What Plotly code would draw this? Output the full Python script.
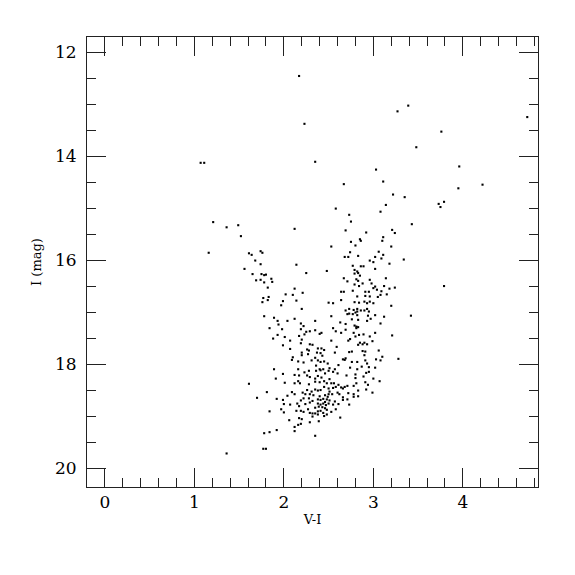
import plotly.graph_objects as go

# Colour (V-I) and magnitude (I) for each star
v_minus_i = [
    2.17, 3.27, 3.39, 3.76, 2.23, 3.48, 1.07, 1.11, 2.35, 3.03, 3.11, 2.67, 3.22, 3.35, 3.14, 3.73, 3.75, 3.79,
    2.58, 2.73, 3.08, 2.75, 3.43, 1.21, 1.36, 1.49, 1.52, 2.12, 2.69, 2.92, 3.21, 3.24, 2.85, 2.86, 2.75, 2.80,
    3.11, 3.10, 2.53, 3.20, 3.06, 3.11, 2.74, 2.68, 2.72, 2.83, 3.02, 3.09, 3.34, 1.16, 1.61, 1.64, 1.74, 1.76,
    3.96, 4.22, 3.95, 3.79, 3.42, 4.72,
    1.68, 1.74, 1.56, 1.65, 1.75, 1.78, 1.80, 2.14, 2.25, 1.69, 1.74, 1.78, 1.86, 1.87, 1.82, 2.12, 2.02, 2.10,
    2.21, 1.77, 1.83,
    1.76, 1.82, 1.99, 1.97, 2.14, 2.20, 1.78, 1.89, 1.93, 1.94, 2.04, 2.12, 2.19, 2.22, 1.84, 1.98, 2.19, 2.29,
    2.35, 2.25, 1.93, 2.01, 2.17, 2.23, 1.88, 2.07, 2.20, 2.19, 1.99, 2.29, 2.32, 2.07, 2.26, 2.28, 2.20, 2.20,
    2.27, 2.10, 2.09, 2.16, 2.22, 2.31, 1.89, 2.16,
    1.99, 1.91, 2.12, 2.17, 2.23, 2.28, 2.26, 2.29, 2.01, 2.12, 2.16, 2.18, 2.28, 1.61, 1.81, 1.70, 2.09, 2.12,
    2.04, 2.21, 2.24, 2.26, 2.31, 2.29, 2.33, 1.92, 1.99, 2.00, 1.97, 2.00, 2.07, 2.15, 2.17, 2.19, 2.22, 2.24,
    2.28, 2.29, 2.32, 2.14, 2.19, 2.22, 2.27, 2.29, 2.32, 2.32, 1.84, 2.06, 2.17, 2.20, 2.29, 2.19, 2.12, 2.16,
    2.12, 1.92, 1.84, 1.78, 1.77, 1.80, 1.36,
    2.96, 3.00, 2.48, 2.79, 3.18, 3.02, 2.77, 2.86, 2.89, 2.79, 2.82, 2.83, 2.85, 2.81, 2.67, 2.71, 2.96, 2.98,
    3.14, 2.83, 2.88, 2.79, 2.84, 3.02, 3.00, 3.04, 3.12, 3.18, 3.24, 2.64, 2.67, 2.77, 2.91, 2.95, 3.09, 3.15,
    2.82, 2.91, 2.96, 3.05, 3.08, 2.64, 2.50, 2.55,
    2.79, 2.84, 2.90, 2.93, 2.96, 3.00, 3.20, 2.73, 2.78, 2.82, 2.82, 2.86, 2.69, 2.71, 2.73, 2.77, 2.80, 2.82,
    2.90, 2.93, 2.95, 3.02, 2.94, 2.97, 3.12, 2.53, 2.63, 2.69, 2.76, 2.83, 2.93, 2.35, 3.08, 2.79, 2.81, 2.83,
    2.81, 2.55, 2.58, 2.64, 2.69, 2.40, 2.42, 2.78, 2.80, 2.84, 2.89, 2.96, 3.02, 3.21, 2.53, 2.72, 2.74, 2.85,
    2.83, 2.88, 2.90, 2.93, 2.99, 2.38, 2.42, 2.45, 2.37, 2.41, 2.43, 2.59, 2.57, 2.73, 2.76, 2.88, 2.91, 2.90,
    3.06, 3.10, 2.66, 2.68, 2.69, 2.76, 2.82, 2.91, 2.93, 3.03, 3.08, 3.28, 2.35, 2.38, 2.41, 2.45, 2.49, 2.36,
    2.40, 2.44, 2.51, 2.61, 2.57, 2.74, 2.82, 2.87, 2.95, 3.02,
    2.36, 2.41, 2.46, 2.50, 2.55, 2.60, 2.70, 2.80, 2.80, 2.89, 2.92, 2.95, 3.00, 3.07, 2.35, 2.38, 2.42, 2.35,
    2.40, 2.45, 2.51, 2.48, 2.53, 2.56, 2.61, 2.81, 2.91, 2.94, 2.45, 2.50, 2.55, 2.58, 2.64, 2.66, 2.68, 2.71,
    2.78, 2.35, 2.38, 2.41, 2.51, 2.54, 2.60, 2.62, 2.72, 2.78, 2.83, 2.92, 2.99, 2.46, 2.49, 2.50, 2.40, 2.78,
    2.83, 2.66, 2.71, 2.38, 2.41, 2.44, 2.48, 2.51, 2.46, 2.57, 2.55, 2.66, 2.61, 2.73, 2.38, 2.41, 2.44, 2.47,
    2.50, 2.35, 2.39, 2.43, 2.46, 2.48, 2.41, 2.38, 2.58, 2.53, 2.35, 2.38, 2.44, 2.48, 2.45, 2.63, 2.39, 2.35,
]
i_mag = [
    12.46, 13.14, 13.03, 13.53, 13.38, 13.83, 14.13, 14.13, 14.11, 14.26, 14.49, 14.54, 14.74, 14.79, 14.94, 14.92, 14.98, 14.88,
    15.01, 15.13, 15.07, 15.26, 15.31, 15.27, 15.37, 15.33, 15.54, 15.40, 15.43, 15.47, 15.42, 15.48, 15.60, 15.63, 15.65, 15.72,
    15.56, 15.63, 15.74, 15.74, 15.84, 15.90, 15.85, 15.94, 15.94, 15.92, 15.94, 15.97, 15.99, 15.86, 15.87, 15.90, 15.83, 15.86,
    14.20, 14.55, 14.62, 16.50, 17.07, 13.25,
    16.01, 16.08, 16.17, 16.27, 16.27, 16.29, 16.28, 16.09, 16.25, 16.39, 16.38, 16.43, 16.36, 16.42, 16.53, 16.55, 16.66, 16.67,
    16.63, 16.73, 16.71,
    16.81, 16.77, 16.79, 16.87, 16.78, 16.94, 17.08, 17.11, 17.17, 17.24, 17.17, 17.13, 17.22, 17.27, 17.31, 17.33, 17.33, 17.37,
    17.35, 17.38, 17.44, 17.48, 17.46, 17.43, 17.51, 17.55, 17.53, 17.60, 17.64, 17.62, 17.63, 17.71, 17.72, 17.74, 17.78, 17.83,
    17.81, 17.87, 17.92, 17.95, 17.97, 17.93, 18.10, 18.10,
    18.19, 18.28, 18.21, 18.22, 18.16, 18.13, 18.22, 18.25, 18.36, 18.37, 18.33, 18.37, 18.39, 18.38, 18.54, 18.65, 18.54, 18.58,
    18.61, 18.55, 18.58, 18.50, 18.53, 18.58, 18.60, 18.67, 18.69, 18.77, 18.87, 18.93, 18.78, 18.76, 18.81, 18.70, 18.66, 18.77,
    18.66, 18.74, 18.71, 18.90, 18.90, 18.92, 18.87, 18.94, 18.95, 19.01, 18.91, 19.08, 19.04, 19.06, 19.12, 19.15, 19.21, 19.17,
    19.29, 19.27, 19.31, 19.33, 19.63, 19.63, 19.72,
    16.01, 16.04, 16.21, 16.19, 16.07, 16.17, 16.11, 16.12, 16.12, 16.26, 16.22, 16.25, 16.30, 16.37, 16.35, 16.41, 16.38, 16.45,
    16.35, 16.40, 16.45, 16.47, 16.50, 16.51, 16.54, 16.57, 16.50, 16.55, 16.53, 16.61, 16.61, 16.59, 16.61, 16.61, 16.60, 16.66,
    16.70, 16.69, 16.70, 16.71, 16.67, 16.77, 16.82, 16.83,
    16.81, 16.82, 16.80, 16.83, 16.80, 16.83, 16.88, 16.94, 16.96, 16.99, 16.94, 16.97, 16.97, 17.04, 17.03, 17.04, 17.01, 17.06,
    16.97, 16.94, 16.99, 17.06, 17.07, 17.13, 17.09, 17.08, 17.20, 17.23, 17.14, 17.15, 17.17, 17.17, 17.22, 17.26, 17.28, 17.29,
    17.31, 17.31, 17.37, 17.40, 17.34, 17.42, 17.40, 17.40, 17.47, 17.44, 17.43, 17.47, 17.40, 17.45, 17.55, 17.55, 17.52, 17.59,
    17.63, 17.62, 17.59, 17.62, 17.56, 17.70, 17.70, 17.73, 17.78, 17.79, 17.84, 17.67, 17.78, 17.77, 17.76, 17.75, 17.76, 17.83,
    17.74, 17.86, 17.91, 17.92, 17.89, 17.96, 17.96, 17.93, 17.99, 17.91, 17.93, 17.90, 17.88, 17.93, 17.96, 17.95, 17.99, 18.03,
    18.10, 18.10, 18.08, 18.02, 18.10, 18.07, 18.10, 18.05, 18.06, 18.07,
    18.13, 18.12, 18.18, 18.13, 18.15, 18.18, 18.22, 18.20, 18.27, 18.24, 18.17, 18.15, 18.28, 18.33, 18.28, 18.23, 18.26, 18.34,
    18.35, 18.33, 18.29, 18.37, 18.37, 18.37, 18.40, 18.37, 18.35, 18.40, 18.44, 18.47, 18.46, 18.44, 18.45, 18.47, 18.44, 18.42,
    18.42, 18.49, 18.51, 18.50, 18.53, 18.58, 18.55, 18.58, 18.56, 18.58, 18.51, 18.49, 18.55, 18.60, 18.63, 18.58, 18.62, 18.63,
    18.62, 18.64, 18.68, 18.68, 18.69, 18.67, 18.68, 18.70, 18.73, 18.72, 18.78, 18.69, 18.77, 18.78, 18.76, 18.78, 18.76, 18.79,
    18.76, 18.84, 18.82, 18.83, 18.85, 18.88, 18.90, 18.91, 18.87, 18.92, 18.95, 18.97, 18.94, 18.97, 19.00, 19.03, 19.10, 19.38,
]

x_range = [-0.2, 4.84]
y_range = [20.365, 11.71]
x_major, x_minor = 1, 0.2
y_major, y_minor = 2, 0.5

FONT = "DejaVu Serif"
INK = "#222222"

fig = go.Figure(go.Scatter(
    x=v_minus_i, y=i_mag, mode="markers",
    marker=dict(color="black", size=2.1, symbol="square", line=dict(width=0)),
    hoverinfo="skip", showlegend=False,
))

common = dict(
    showgrid=False, zeroline=False, showline=True, linecolor=INK, linewidth=1,
    mirror="allticks", ticks="inside", tickcolor=INK, tickwidth=1, ticklen=19,
    tickfont=dict(family=FONT, size=17, color="black"),
)

fig.update_xaxes(
    **common, range=x_range, tick0=0, dtick=x_major,
    minor=dict(ticks="inside", dtick=x_minor, tick0=0, ticklen=9, tickcolor=INK, tickwidth=1),
    title=dict(text="V-I", font=dict(family=FONT, size=13, color="black"), standoff=3),
    ticklabelstandoff=0,
)
fig.update_yaxes(
    **common, range=y_range, tick0=12, dtick=y_major,
    minor=dict(ticks="inside", dtick=y_minor, tick0=12, ticklen=9, tickcolor=INK, tickwidth=1),
    title=dict(text="I (mag)", font=dict(family=FONT, size=13, color="black"), standoff=10),
    ticklabelstandoff=6,
)

# the page body adds an ~8px offset, so margins are shifted to compensate
fig.update_layout(
    width=575, height=575,
    margin=dict(l=79, r=45, t=29, b=96),
    paper_bgcolor="white", plot_bgcolor="white",
    font=dict(family=FONT, color="black"),
)

fig.write_html("out.html")
